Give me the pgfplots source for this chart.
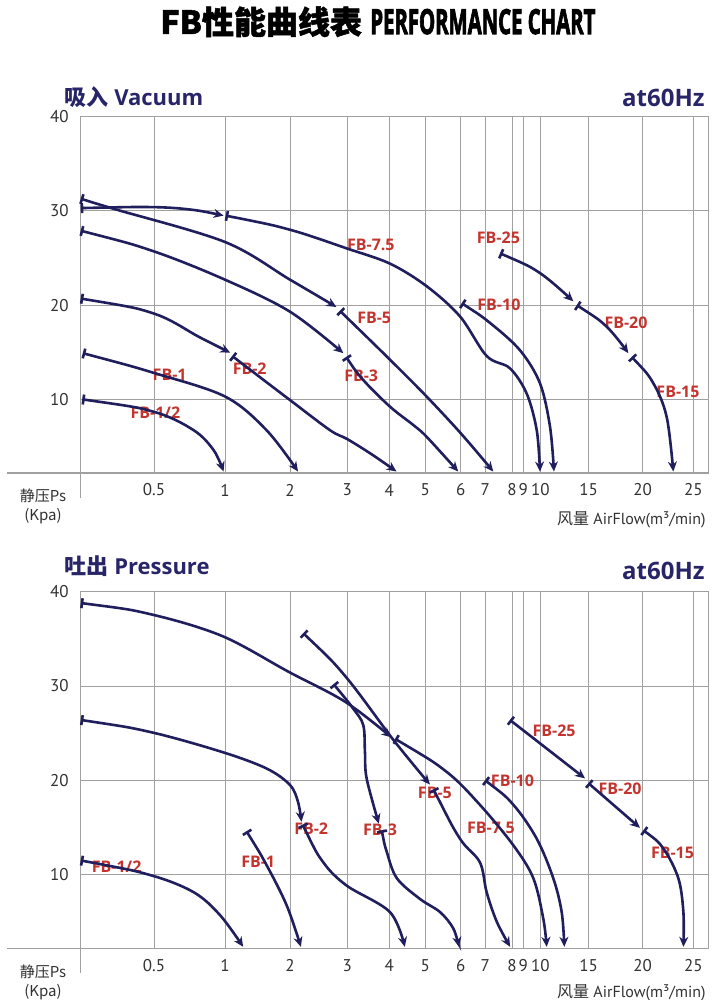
\documentclass[border=0pt]{standalone}
\usepackage{pgfplots}
\pgfplotsset{compat=1.18}
\usetikzlibrary{arrows.meta}
\usepackage{fontspec}
\setmainfont{PT Sans}
\newfontfamily\cjk{Noto Sans CJK SC}
\newfontfamily\cjkheavy[BoldFeatures={FakeBold=1.5}]{Noto Sans CJK SC}
\newfontfamily\osb{Open Sans}
\newfontfamily\heavy[BoldFeatures={FakeBold=3}]{Open Sans}
\definecolor{navy}{RGB}{32,30,92}
\definecolor{hdr}{RGB}{40,36,104}
\definecolor{labred}{RGB}{196,52,46}
\definecolor{gridgray}{RGB}{160,160,160}
\definecolor{ticktext}{RGB}{50,50,50}
\newcommand\xtrafo[1]{\pgfmathparse{#1<0.5 ? 80.7+146.6*#1 : (#1<1 ? 154+142*(#1-0.5) : (#1<2 ? 225+65*(#1-1) : (#1<3 ? 290+57.3*(#1-2) : (#1<4 ? 347.3+42*(#1-3) : (#1<5 ? 389.3+36*(#1-4) : (#1<6 ? 425.3+35.4*(#1-5) : (#1<7 ? 460.7+24.6*(#1-6) : (#1<8 ? 485.3+26.7*(#1-7) : (#1<9 ? 512+11.3*(#1-8) : (#1<10 ? 523.3+17*(#1-9) : (#1<15 ? 540.3+9.68*(#1-10) : (#1<20 ? 588.7+10.8*(#1-15) : 642.7+10.12*(#1-20)))))))))))))}}
\newcommand\ytrafo[1]{\pgfmathparse{#1<10 ? 2.18+0.782*#1 : #1}}
\tikzset{lbl/.style={font=\osb\bfseries\fontsize{8}{9}\selectfont, text=labred, inner sep=0pt}}
\pgfplotsset{
  perf/.style={
    scale only axis, width=313.8pt,
    xmin=0, xmax=26.48, ymin=0, ymax=40,
    xtick={0.5,1,2,3,4,5,6,7,8,9,10,15,20,25},
    xticklabels={0.5,1,2,3,4,5,6,7,8,9,10,15,20,25},
    ytick={10,20,30,40}, yticklabels={10,20,30,40},
    grid=major, major grid style={gridgray, line width=0.5pt},
    axis line style={gridgray, line width=0.6pt},
    major tick length=0pt,
    tick label style={font=\fontsize{8.5}{10}\selectfont, text=ticktext},
    /pgf/number format/assume math mode=true,
    xticklabel style={anchor=center, yshift=-8.5pt},
    yticklabel style={anchor=east, xshift=-2.5pt},
    clip=false,
  },
  curve/.style={draw=navy, line width=1.3pt, smooth, tension=0.55, no markers,
    arrows={Bar[width=5pt]-Stealth[length=5pt,width=4.5pt]}},
}
\begin{document}
\begin{tikzpicture}
\useasboundingbox (0,0) rectangle (360pt,-500pt);
% title
\node[anchor=base west, inner sep=0pt] at (80pt,-17pt) {\cjkheavy\bfseries\fontsize{16}{18}\selectfont FB性能曲线表};
\node[anchor=base west, inner sep=0pt] at (185pt,-17pt) {\resizebox{112.5pt}{12.5pt}{\heavy\bfseries PERFORMANCE CHART}};
% headers
\node[anchor=base west, inner sep=0pt, text=hdr] at (32pt,-53pt) {\fontsize{11}{13}\selectfont{\cjk\bfseries 吸入} {\osb\bfseries Vacuum}};
\node[anchor=base east, inner sep=0pt, text=hdr] at (352.5pt,-53.5pt) {\osb\bfseries\fontsize{12}{14}\selectfont at60Hz};
\node[anchor=base west, inner sep=0pt, text=hdr] at (32pt,-287pt) {\fontsize{11}{13}\selectfont{\cjk\bfseries 吐出} {\osb\bfseries Pressure}};
\node[anchor=base east, inner sep=0pt, text=hdr] at (352.5pt,-289.5pt) {\osb\bfseries\fontsize{12}{14}\selectfont at60Hz};
% axis extensions
\draw[gridgray, line width=0.6pt] (3.5pt,-236.5pt) -- (40.35pt,-236.5pt) -- (40.35pt,-249pt);
\draw[gridgray, line width=0.6pt] (3.5pt,-474.15pt) -- (40.35pt,-474.15pt) -- (40.35pt,-486.6pt);
% side labels
\node[text=ticktext, align=center, inner sep=0pt, font=\cjk\fontsize{7.5}{9.5}\selectfont] at (21.5pt,-253pt) {静压Ps\\(Kpa)};
\node[text=ticktext, align=center, inner sep=0pt, font=\cjk\fontsize{7.5}{9.5}\selectfont] at (21.5pt,-491pt) {静压Ps\\(Kpa)};
\node[text=ticktext, anchor=east, inner sep=0pt, font=\fontsize{8}{10}\selectfont] at (353pt,-260pt) {{\cjk 风量} AirFlow(m³/min)};
\node[text=ticktext, anchor=east, inner sep=0pt, font=\fontsize{8}{10}\selectfont] at (353pt,-496.5pt) {{\cjk 风量} AirFlow(m³/min)};

% ================= VACUUM =================
\begin{axis}[perf, at={(40.35pt,-236.5pt)}, anchor=south west, height=178.15pt,
  x coord trafo/.code={\xtrafo{#1}}, y coord trafo/.code={\ytrafo{#1}}]
\node[lbl] at (axis cs:0.51,8.15) {FB-1/2};
\node[lbl] at (axis cs:0.61,12.6) {FB-1};
\node[lbl] at (axis cs:1.38,13.3) {FB-2};
\node[lbl] at (axis cs:3.33,12.5) {FB-3};
\node[lbl] at (axis cs:3.64,18.6) {FB-5};
\node[lbl] at (axis cs:3.56,26.4) {FB-7.5};
\node[lbl] at (axis cs:7.49,27.2) {FB-25};
\node[lbl] at (axis cs:7.51,20.0) {FB-10};
\node[lbl] at (axis cs:18.45,18.1) {FB-20};
\node[lbl] at (axis cs:23.48,10.8) {FB-15};
% FB-1/2
\addplot[curve] coordinates {(0.01,10.0) (0.5,8.3) (0.78,5.8) (0.92,3.1) (0.99,0.2)};
% FB-1
\addplot[curve] coordinates {(0.014,14.9) (0.5,12.8) (1.0,10.3) (1.64,5.8) (2.14,0.2)};
% FB-2
\addplot[curve] coordinates {(0.0,20.7) (0.5,19.1) (0.82,16.6) (1.08,14.95)};
\addplot[curve] coordinates {(1.11,14.6) (2.0,9.9) (2.7,5.8) (3.0,4.6) (3.59,2.5) (4.2,0.2)};
% FB-3
\addplot[curve] coordinates {(0.0,27.9) (0.5,25.7) (1.0,22.7) (2.0,19.3) (2.93,14.9)};
\addplot[curve] coordinates {(2.98,14.5) (3.38,12.05) (4.02,9.0) (4.67,6.5) (5.04,4.9) (5.93,0.2)};
% FB-5
\addplot[curve] coordinates {(0.0,31.3) (0.23,30.2) (1.0,26.7) (2.0,22.7) (2.81,19.8)};
\addplot[curve] coordinates {(2.87,19.4) (4.02,14.2) (5.01,10.4) (6.0,5.4) (7.3,0.2)};
% FB-7.5
\addplot[curve] coordinates {(0.0,30.3) (0.5,30.4) (0.78,30.1) (0.99,29.5)};
\addplot[curve] coordinates {(1.01,29.5) (2.0,28.0) (3.0,26.0) (4.02,24.4) (5.04,22.0) (5.98,18.8) (7.05,14.6) (7.92,13.3) (9.2,10.6) (9.79,5.8) (9.98,0.2)};
% FB-10
\addplot[curve] coordinates {(6.04,20.2) (7.18,18.1) (8.71,15.2) (9.98,11.7) (11.0,6.3) (11.41,0.2)};
% FB-25
\addplot[curve] coordinates {(7.55,25.5) (9.98,23.4) (13.41,20.4)};
% FB-20
\addplot[curve] coordinates {(13.76,20.0) (16.67,17.7) (18.67,14.9)};
% FB-15
\addplot[curve] coordinates {(18.98,14.5) (21.05,11.7) (22.37,7.6) (23.02,0.2)};
\end{axis}

% ================= PRESSURE =================
\begin{axis}[perf, at={(40.35pt,-474.15pt)}, anchor=south west, height=178.3pt,
  x coord trafo/.code={\xtrafo{#1}}, y coord trafo/.code={\ytrafo{#1}}]
\node[lbl] at (axis cs:0.245,10.8) {FB-1/2};
\node[lbl] at (axis cs:1.51,11.4) {FB-1};
\node[lbl] at (axis cs:2.37,14.9) {FB-2};
\node[lbl] at (axis cs:3.78,14.7) {FB-3};
\node[lbl] at (axis cs:5.27,18.7) {FB-5};
\node[lbl] at (axis cs:7.21,15.0) {FB-7.5};
\node[lbl] at (axis cs:8.04,20.0) {FB-10};
\node[lbl] at (axis cs:11.42,25.3) {FB-25};
\node[lbl] at (axis cs:17.9,19.05) {FB-20};
\node[lbl] at (axis cs:22.94,12.3) {FB-15};
% FB-1/2
\addplot[curve] coordinates {(0.0,11.5) (0.48,9.9) (0.78,7.6) (0.965,4.5) (1.28,0.2)};
% FB-1
\addplot[curve] coordinates {(1.33,14.6) (1.64,11.0) (1.95,5.8) (2.19,0.2)};
% FB-2
\addplot[curve] coordinates {(0.0,26.4) (0.48,25.1) (0.98,23.0) (1.64,21.25) (2.0,19.5) (2.14,17.7) (2.2,15.6)};
\addplot[curve] coordinates {(2.22,15.3) (2.58,11.3) (2.99,8.5) (4.02,4.9) (4.43,0.2)};
% FB-3
\addplot[curve] coordinates {(2.76,30.2) (3.14,27.6) (3.38,25.85) (3.42,23.0) (3.46,20.2) (3.75,15.4)};
\addplot[curve] coordinates {(3.82,14.7) (3.94,12.4) (4.21,9.5) (4.85,6.7) (5.42,4.9) (5.79,2.7) (5.95,0.2)};
% FB-5
\addplot[curve] coordinates {(2.23,35.6) (2.97,31.0) (4.11,24.3) (5.13,19.55)};
\addplot[curve] coordinates {(5.23,19.05) (5.98,13.8) (6.78,11.3) (7.05,7.6) (7.43,3.6) (7.93,0.2)};
% FB-7.5
\addplot[curve] coordinates {(0.0,38.8) (0.48,37.6) (0.98,35.3) (1.98,31.5) (2.97,28.3) (4.06,24.55)};
\addplot[curve] coordinates {(4.16,24.4) (5.6,20.9) (6.78,17.4) (8.12,13.1) (9.59,9.5) (10.31,4.0) (10.66,0.2)};
% FB-10
\addplot[curve] coordinates {(6.99,20.0) (8.12,17.4) (9.79,13.8) (11.34,9.5) (12.21,4.9) (12.48,0.2)};
% FB-25
\addplot[curve] coordinates {(7.92,26.4) (14.62,20.2)};
% FB-20
\addplot[curve] coordinates {(14.96,19.7) (19.75,14.95)};
% FB-15
\addplot[curve] coordinates {(20.06,14.7) (22.04,12.76) (23.52,9.5) (24.02,4.9) (24.02,0.2)};
\end{axis}
\end{tikzpicture}
\end{document}
